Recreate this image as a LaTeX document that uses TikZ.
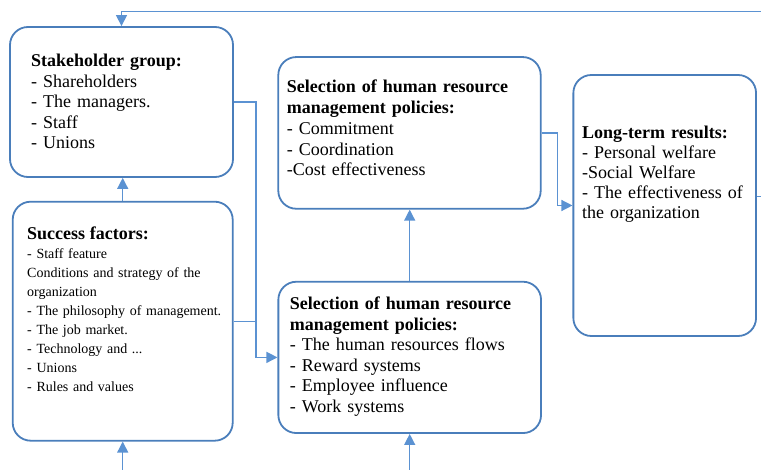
\documentclass[tikz,border=0pt]{standalone}
\usepackage{fontspec}
\setmainfont{Liberation Serif}
\usetikzlibrary{arrows.meta}
\definecolor{boxblue}{RGB}{74,126,187}
\definecolor{lineblue}{RGB}{91,146,210}

\begin{document}
\begin{tikzpicture}[x = 1pt, y = -1pt, >={Triangle[length = 11pt, width = 11pt]}]
  \tikzstyle{box}  = [draw = boxblue, line width = 1.8pt, rounded corners = 18pt, inner sep = 0pt]
  \tikzstyle{txt}  = [anchor = base west, align = left, text width = 230pt, inner sep = 0pt,
                      font = \fontsize{18}{20.5}\selectfont]
  \tikzstyle{conn} = [draw = lineblue, line width = 1.3pt, ->]
  \clip (0,0) rectangle (761,470);

  % boxes
  \node[box, minimum width = 223pt, minimum height = 150pt]   (A) at (121.5,102)   {};
  \node[box, minimum width = 220pt, minimum height = 239pt]   (B) at (122.7,321.2) {};
  \node[box, minimum width = 262.4pt, minimum height = 151.7pt] (C) at (409.5,132.9) {};
  \node[box, minimum width = 262.7pt, minimum height = 151.3pt] (D) at (409.7,357.4) {};
  \node[box, minimum width = 182.7pt, minimum height = 261pt] (E) at (664.7,205.5) {};

  % texts
  \node[txt] (At) at (31,66.7) {\textbf{Stakeholder group:}\\- Shareholders\\- The managers.\\- Staff\\- Unions};
  \node[txt, font = \fontsize{14}{18.9}\selectfont] (Bt) at (27,240)
    {{\fontsize{18}{18.9}\selectfont\bfseries Success factors:}\\- Staff feature\\Conditions and strategy of the\\organization\\- The philosophy of management.\\- The job market.\\- Technology and ...\\- Unions\\- Rules and values};
  \node[txt, font = \fontsize{18}{20.8}\selectfont] (Ct) at (286.7,92.7)
    {\textbf{Selection of human resource}\\\textbf{management policies:}\\- Commitment\\- Coordination\\-Cost effectiveness};
  \node[txt] (Dt) at (289.7,310)
    {\textbf{Selection of human resource}\\\textbf{management policies:}\\- The human resources flows\\- Reward systems\\- Employee influence\\- Work systems};
  \node[txt, font = \fontsize{18}{20}\selectfont] (Et) at (582,138.7)
    {\textbf{Long-term results:}\\- Personal welfare\\-Social Welfare\\- The effectiveness of\\the organization};

  % connectors
  \coordinate (fbR) at (775,196.7);
  \coordinate (fbT) at (775,11.7);
  \coordinate (inB) at (122.7,480);
  \coordinate (inD) at (409.7,480);
  \draw[conn] (E.east |- fbR) -- (fbR) -- (fbT) -| (A.north);
  \draw[conn] (B.north) -- (B.north |- A.south);
  \draw[conn] (A.east) -- ++(22,0) |- (D.west);
  \draw[conn, -] (B.east) -- ++(22,0);
  \draw[conn] (C.east) -- ++(16,0) |- (E.west);
  \draw[conn] (D.north) -- (D.north |- C.south);
  \draw[conn] (inB) -- (B.south);
  \draw[conn] (inD) -- (D.south);
\end{tikzpicture}
\end{document}
